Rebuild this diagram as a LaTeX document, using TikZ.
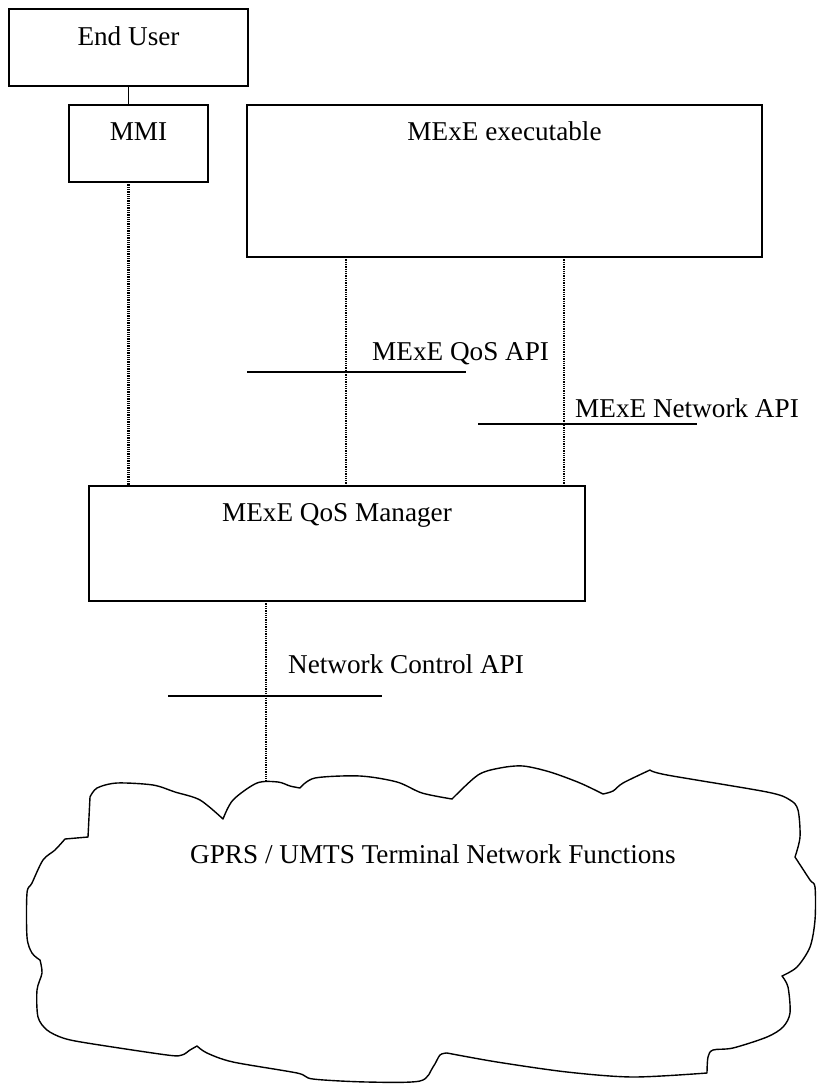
\documentclass[tikz,border=0pt]{standalone}
\usepackage{fontspec}
\setmainfont{Liberation Serif}
\begin{document}
\begin{tikzpicture}[x=1pt,y=-1pt,
  boxst/.style={draw,line width=1.4pt,inner sep=0pt,outer sep=0pt,anchor=north west},
  lbl/.style={inner sep=0pt,font=\fontsize{27.2}{32}\selectfont},
  dotconn/.style={line width=2.2pt,dash pattern=on 1.3pt off 1pt},
  apiline/.style={line width=1.4pt},
  cloudst/.style={line width=1.4pt,line join=round}]
\useasboundingbox (0,0) rectangle (817,1084);
% boxes
\node[boxst,minimum width=239pt,minimum height=77pt] (eu) at (9,9) {};
\node[boxst,minimum width=139pt,minimum height=77pt] (mmi) at (69,105) {};
\node[boxst,minimum width=515pt,minimum height=152pt] (exec) at (247,105) {};
\node[boxst,minimum width=496pt,minimum height=115pt] (mgr) at (89,486) {};
% box labels
\node[lbl,anchor=base] (eut) at ([yshift=-36pt]eu.north) {End User};
\node[lbl,anchor=base] (mmit) at ([yshift=-35pt]mmi.north) {MMI};
\node[lbl,anchor=base] (exect) at ([yshift=-35pt]exec.north) {MExE executable};
\node[lbl,anchor=base] (mgrt) at ([yshift=-35pt]mgr.north) {MExE QoS Manager};
% connectors
\draw[line width=1.4pt] (eu.south) -- (eu.south |- mmi.north);
\draw[dotconn] (eu.south |- mmi.south) -- (eu.south |- mgr.north);
\coordinate (q1) at ([xshift=99pt]exec.south west);
\coordinate (q2) at ([xshift=317pt]exec.south west);
\draw[dotconn] (q1) -- (q1 |- mgr.north);
\draw[dotconn] (q2) -- (q2 |- mgr.north);
\coordinate (m1) at ([xshift=177pt]mgr.south west);
\coordinate (ctop) at (266,782);
\draw[dotconn] (m1) -- (ctop);
% API lines
\coordinate (qa) at (247,372); \coordinate (qb) at (466,372);
\coordinate (na) at (478,424); \coordinate (nb) at (697,424);
\coordinate (ca) at (168,696); \coordinate (cb) at (382,696);
\draw[apiline] (qa) -- (qb);
\draw[apiline] (na) -- (nb);
\draw[apiline] (ca) -- (cb);
\node[lbl,anchor=base west] (qlbl) at (372,360) {MExE QoS API};
\node[lbl,anchor=base west] (nlbl) at (575,417) {MExE Network API};
\node[lbl,anchor=base west] (clbl) at (288,673) {Network Control API};
% cloud
\draw[cloudst]
  plot[smooth,tension=0.5] coordinates {(223,819) (233,800) (257,783) (278,782) (290,786) (300,788)}
  -- plot[smooth,tension=0.5] coordinates {(300,788) (315,778) (360,776) (397,782) (422,793) (452,799)}
  -- plot[smooth,tension=0.5] coordinates {(452,799) (478,775) (500,768) (523,766) (550,772) (580,783) (603,794)}
  -- plot[smooth,tension=0.5] coordinates {(603,794) (613,791) (623,783) (650,770)}
  -- plot[smooth,tension=0.5] coordinates {(650,770) (667,775) (767,792) (790,800) (798,810) (800,837) (795,857)}
  -- plot[smooth,tension=0.5] coordinates {(795,857) (810,880) (815,887) (815,920) (810,947) (797,967) (782,976)}
  -- plot[smooth,tension=0.5] coordinates {(782,976) (788,987) (790,1013) (783,1027) (767,1037) (733,1048) (713,1050) (708,1057) (707,1073)}
  -- plot[smooth,tension=0.5] coordinates {(707,1073) (633,1077) (567,1072) (497,1062) (447,1053)}
  -- plot[smooth,tension=0.5] coordinates {(447,1053) (440,1055) (433,1067) (420,1081) (367,1082) (313,1079) (297,1073) (233,1062) (207,1053) (197,1046)}
  -- plot[smooth,tension=0.5] coordinates {(197,1046) (190,1050) (182,1055) (167,1055) (87,1043) (63,1038) (47,1030) (38,1017) (37,990) (42,973) (40,960)}
  -- plot[smooth,tension=0.5] coordinates {(40,960) (32,953) (27,937) (27,893) (32,883) (43,860) (55,850) (65,839)}
  -- (88,837) -- (90,797)
  -- plot[smooth,tension=0.5] coordinates {(90,797) (97,788) (117,783) (153,785) (175,792) (200,800) (223,819)}
  -- cycle;
\node[lbl,anchor=base west] (gprs) at (190,863) {GPRS / UMTS Terminal Network Functions};
\end{tikzpicture}
\end{document}
